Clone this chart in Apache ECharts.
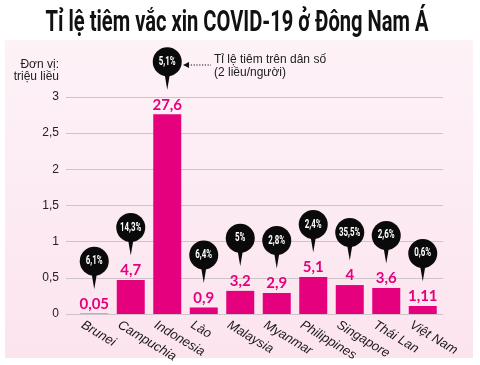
<!DOCTYPE html>
<html>
<head>
<meta charset="utf-8">
<script src="https://cdn.jsdelivr.net/npm/echarts@6/dist/echarts.min.js"></script>
<style>
html,body{margin:0;padding:0;background:#fff;}
#c{width:480px;height:365px;}
</style>
</head>
<body>
<div id="c"></div>
<script>
var titleText = 'Tỉ lệ tiêm vắc xin COVID-19 ở Đông Nam Á';
var countries = ['Brunei','Campuchia','Indonesia','Lào','Malaysia','Myanmar','Philippines','Singapore','Thái Lan','Việt Nam'];
var doses = [0.05, 4.7, 27.6, 0.9, 3.2, 2.9, 5.1, 4, 3.6, 1.11];
var rates = ['6,1%','14,3%','5,1%','6,4%','5%','2,8%','2,4%','35,5%','2,6%','0,6%'];
var yTickLabels = ['0','0,5','1','1,5','2','2,5','3'];
var yMin = 0, yMax = 30, yStep = 5;

var PINK = '#e5007e';
var chart = echarts.init(document.getElementById('c'), null, {renderer:'canvas'});

var gridTop = 97, gridH = 217;

// condensed look for title: measure then squeeze horizontally
var TITLE_FONT = 'bold 30px Roboto';
var mctx = document.createElement('canvas').getContext('2d');
mctx.font = TITLE_FONT;
var titleScale = 383 / mctx.measureText(titleText).width;

function hiddenCat(i){
  return {type:'category', gridIndex:i, data:countries, show:false};
}
function hiddenVal(i){
  return {type:'value', gridIndex:i, min:yMin, max:yMax, interval:yStep, show:false, splitLine:{show:false}};
}

var option = {
  animation:false,
  backgroundColor:'#ffffff',
  graphic:[
    {type:'rect', z:-10, shape:{x:5,y:40,width:468,height:318},
     style:{fill:new echarts.graphic.LinearGradient(0,0,0,1,[{offset:0,color:'#fdf2f7'},{offset:1,color:'#fce4ef'}])}},
    {type:'text', x:237, y:23, scaleX:titleScale, style:{text:titleText, fill:'#111', font:TITLE_FONT, textAlign:'center', textVerticalAlign:'middle'}},
    {type:'line', shape:{x1:188,y1:65,x2:211,y2:65}, style:{stroke:'#111', lineWidth:1.2, lineDash:[1.2,1.6]}},
    {type:'polygon', shape:{points:[[183,65],[189,62],[189,68]]}, style:{fill:'#111'}},
    {type:'text', x:214, y:60, style:{text:'Tỉ lệ tiêm trên dân số', fill:'#222', font:'12px "Liberation Sans"', textVerticalAlign:'middle'}},
    {type:'text', x:214, y:73, style:{text:'(2 liều/người)', fill:'#222', font:'12px "Liberation Sans"', textVerticalAlign:'middle'}},
    {type:'text', x:59, y:65, style:{text:'Đơn vị:', fill:'#222', font:'12px "Liberation Sans"', textAlign:'right', textVerticalAlign:'middle'}},
    {type:'text', x:59, y:77, style:{text:'triệu liều', fill:'#222', font:'12px "Liberation Sans"', textAlign:'right', textVerticalAlign:'middle'}}
  ],
  grid:[
    {left:66, right:37, top:gridTop, height:gridH},
    {left:76, width:365, top:gridTop, height:gridH},
    {left:64, width:365, top:gridTop, height:gridH}
  ],
  xAxis:[
    hiddenCat(0),
    hiddenCat(1),
    {type:'category', gridIndex:2, data:countries,
     axisLine:{show:false}, axisTick:{show:false},
     axisLabel:{interval:0, rotate:-31, margin:11, color:'#1a1a1a', fontSize:13, fontStyle:'italic', fontFamily:'Liberation Sans'}}
  ],
  yAxis:[
    {type:'value', gridIndex:0, min:yMin, max:yMax, interval:yStep,
     axisLine:{show:false}, axisTick:{show:false},
     axisLabel:{margin:7, color:'#222', fontSize:12, fontFamily:'Liberation Sans',
       formatter:function(v){return yTickLabels[Math.round((v-yMin)/yStep)];}},
     splitLine:{lineStyle:{color:'#ccc4c9', width:1}}},
    hiddenVal(1),
    hiddenVal(2)
  ],
  series:[
    {type:'bar', xAxisIndex:1, yAxisIndex:1, data:doses, barWidth:28,
     itemStyle:{color:PINK},
     label:{show:true, position:'top', distance:2, color:PINK, fontSize:15, fontWeight:'bold', fontFamily:'Lato',
       formatter:function(p){return String(p.value).replace('.',',');}}},
    {type:'custom', xAxisIndex:1, yAxisIndex:1,
     data:doses.map(function(v,i){return [i,v];}),
     renderItem:function(params, api){
       var p = api.coord([api.value(0), api.value(1)]);
       var cx = p[0], tip = p[1]-24.5, cy = tip-28, r = 14.5;
       return {type:'group', children:[
         {type:'polygon', shape:{points:[[cx-3.2,cy+9],[cx,tip],[cx+3.2,cy+9]]}, style:{fill:'#0a0a0a'}},
         {type:'circle', shape:{cx:cx, cy:cy, r:r}, style:{fill:'#0a0a0a'}},
         {type:'text', x:cx, y:cy, scaleX:0.66, style:{text:rates[params.dataIndex], fill:'#fff', font:'bold 12px Roboto', textAlign:'center', textVerticalAlign:'middle'}}
       ]};
     }}
  ]
};
chart.setOption(option);
</script>
</body>
</html>
